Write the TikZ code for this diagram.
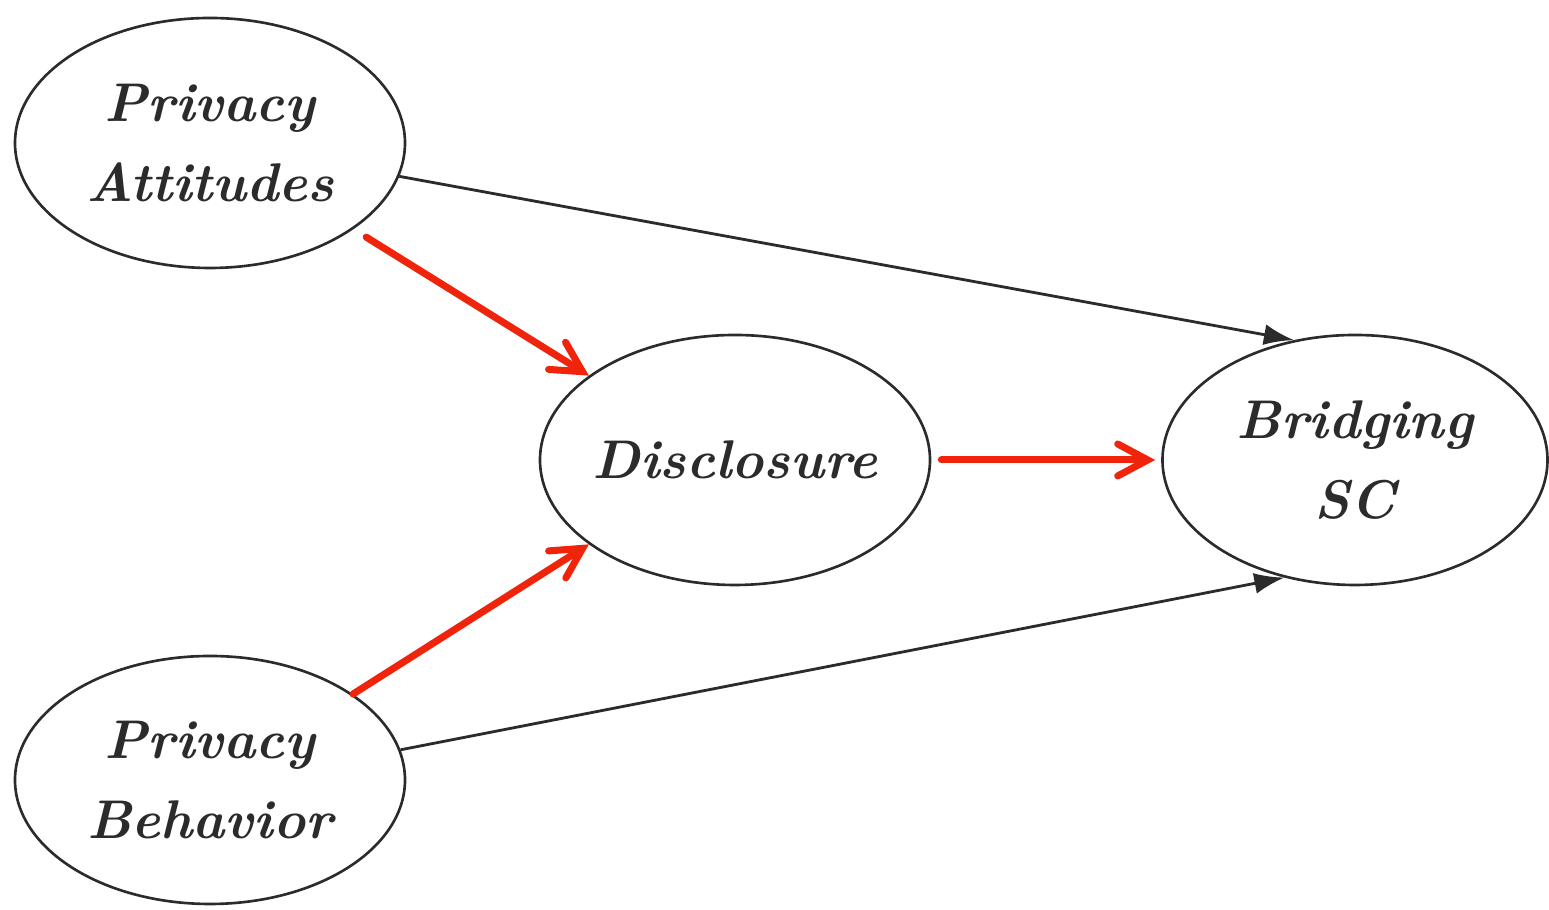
\documentclass[tikz,border=0pt]{standalone}
\usepackage{tikz}
\usetikzlibrary{arrows.meta,shapes.geometric}
\definecolor{ink}{HTML}{2B2B2B}
\definecolor{hot}{HTML}{F0240A}
\tikzset{
  latent/.style={draw=ink, ellipse, line width=0.75pt, minimum width=3.9cm, minimum height=2.5cm, align=center, font=\fontsize{15.5}{23}\selectfont\bfseries\itshape, text=ink, inner ysep=0pt, inner xsep=-1.5mm},
  path/.style={draw=ink, line width=0.8pt, -{Latex[length=3mm,width=2.1mm]}},
  med/.style={draw=hot, line width=2pt, line cap=round, -{Straight Barb[length=3mm,width=3.2mm,line cap=round]}},
}
\begin{document}
\begin{tikzpicture}
  \useasboundingbox (0,0) rectangle (15.49,9.10);
  \coordinate (A) at (2.10,7.67);
  \coordinate (D) at (7.35,4.50);
  \coordinate (S) at (13.55,4.50);
  \coordinate (B) at (2.10,1.30);
  \node[latent] (att) at (A) {Privacy\\Attitudes};
  \node[latent] (dis) at (D) {Disclosure};
  \node[latent, minimum width=3.85cm] (bsc) at (S) {Bridging\\SC};
  \node[latent, minimum height=2.48cm] (beh) at (B) {Privacy\\Behavior};
  % direct paths
  \draw[path] (att.-10) -- (bsc.117);
  \draw[path] (beh.9) -- (bsc.-121);
  % mediated paths
  \draw[med, shorten <=1.5mm] (att.-31) -- (dis.150);
  \draw[med, shorten <=1mm, shorten >=0.6mm] (dis.east) -- (bsc.west);
  \draw[med] (beh.31) -- (dis.-150);
\end{tikzpicture}
\end{document}
